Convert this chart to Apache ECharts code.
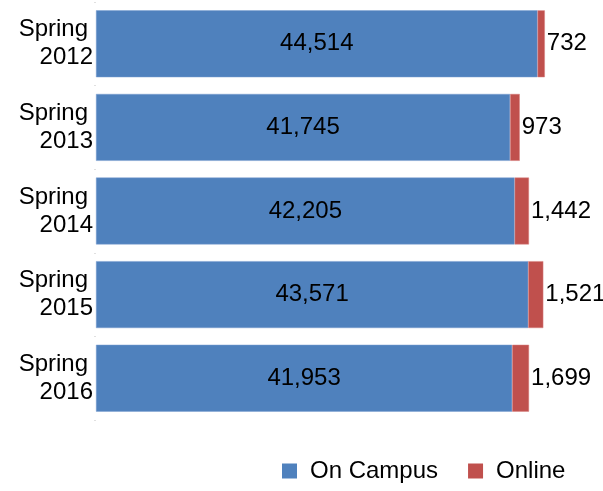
<!DOCTYPE html>
<html>
<head>
<meta charset="utf-8">
<script src="https://cdn.jsdelivr.net/npm/echarts@6/dist/echarts.min.js"></script>
<style>
  html, body { margin: 0; padding: 0; background: #fff; }
  #chart { width: 603px; height: 491px; }
</style>
</head>
<body>
<div id="chart"></div>
<script>
const terms = ['Spring 2012', 'Spring 2013', 'Spring 2014', 'Spring 2015', 'Spring 2016']
const onCampus = [44514, 41745, 42205, 43571, 41953]
const online = [732, 973, 1442, 1521, 1699]

const chart = echarts.init(document.getElementById('chart'))
const fmt = function (p) {
  return p.value.toLocaleString('en-US')
}
const option = {
  animation: false,
  textStyle: { fontFamily: 'Liberation Sans, Arial, sans-serif' },
  grid: {
    left: 96,
    top: 2,
    width: 496,
    height: 418
  },
  legend: {
    bottom: 3,
    left: 277,
    itemWidth: 15,
    itemHeight: 15,
    itemGap: 30,
    icon: 'rect',
    itemStyle: { borderWidth: 0 },
    textStyle: { fontSize: 24, color: '#000', padding: [0, 0, 0, 8] },
    data: ['On Campus', 'Online']
  },
  xAxis: {
    type: 'value',
    min: 0,
    max: 50000,
    show: false
  },
  yAxis: {
    type: 'category',
    inverse: true,
    data: terms,
    axisLine: { show: false },
    axisTick: {
      show: true,
      length: 2,
      lineStyle: { color: '#e0e0e0' }
    },
    axisLabel: {
      fontSize: 24,
      color: '#000',
      lineHeight: 28,
      align: 'right',
      margin: 3,
      formatter: function (v) {
        const parts = v.split(' ')
        return '{a|' + parts[0] + '}\n{b|' + parts[1] + '}'
      },
      rich: {
        a: { fontSize: 24, color: '#000', lineHeight: 28, padding: [0, 5, 0, 0] },
        b: { fontSize: 24, color: '#000', lineHeight: 28 }
      }
    }
  },
  series: [{
    name: 'On Campus',
    type: 'bar',
    stack: 'total',
    barCategoryGap: '20%',
    data: onCampus,
    itemStyle: { color: '#4f81bd', borderColor: '#7a9fd0', borderWidth: 0.5 },
    label: {
      show: true,
      position: 'inside',
      fontSize: 24,
      color: '#000',
      formatter: fmt
    }
  }, {
    name: 'Online',
    type: 'bar',
    stack: 'total',
    data: online,
    itemStyle: { color: '#c0504d', borderColor: '#d88380', borderWidth: 0.5 },
    label: {
      show: true,
      position: 'right',
      distance: 2,
      fontSize: 24,
      color: '#000',
      formatter: fmt
    }
  }]
}
chart.setOption(option)
</script>
</body>
</html>
